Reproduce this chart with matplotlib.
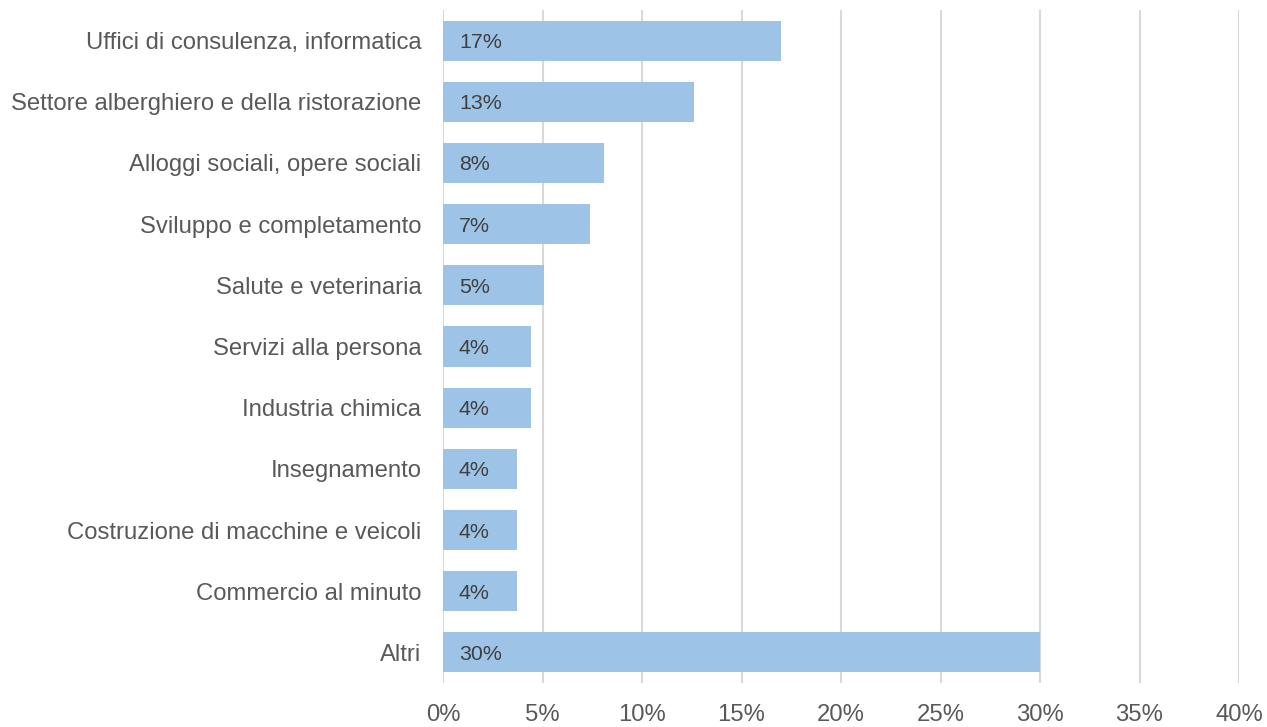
import matplotlib.pyplot as plt
from matplotlib.ticker import FuncFormatter, MultipleLocator

plt.rcParams["font.family"] = ["Liberation Sans", "DejaVu Sans"]

# data (top to bottom as shown)
categories = [
    "Uffici di consulenza, informatica",
    "Settore alberghiero e della ristorazione",
    "Alloggi sociali, opere sociali",
    "Sviluppo e completamento",
    "Salute e veterinaria",
    "Servizi alla persona",
    "Industria chimica",
    "Insegnamento",
    "Costruzione di macchine e veicoli",
    "Commercio al minuto",
    "Altri",
]
shares = [17.0, 12.6, 8.1, 7.4, 5.1, 4.4, 4.4, 3.7, 3.7, 3.7, 30.0]
value_labels = ["17%", "13%", "8%", "7%", "5%", "4%", "4%", "4%", "4%", "4%", "30%"]

BAR_COL = "#9DC3E6"
GRID_COL = "#D9D9D9"
TXT_COL = "#595959"
VAL_COL = "#404040"

fig = plt.figure(figsize=(12.67, 7.27), dpi=100)
ax = fig.add_axes([443 / 1267, 1 - 683 / 727, (1239 - 443) / 1267, (683 - 10) / 727])

ypos = list(range(len(categories)))
ax.barh(ypos, shares, height=0.655, color=BAR_COL, zorder=3)

for y, lab in zip(ypos, value_labels):
    ax.annotate(lab, xy=(0, y), xytext=(11.5, 0), textcoords="offset points",
                ha="left", va="center_baseline", fontsize=15.4, color=VAL_COL, zorder=4)

ax.set_ylim(len(categories) - 0.5, -0.5)
ax.set_xlim(0, 40)
ax.set_yticks(ypos)
ax.set_yticklabels(categories)
ax.xaxis.set_major_locator(MultipleLocator(5))
ax.xaxis.set_major_formatter(FuncFormatter(lambda v, _: f"{v:.0f}%"))

ax.grid(axis="x", color=GRID_COL, lw=1.5, zorder=0)
ax.grid(axis="y", visible=False)
for s in ax.spines.values():
    s.set_visible(False)

ax.tick_params(axis="both", length=0, labelsize=17.2, colors=TXT_COL)
ax.tick_params(axis="y", pad=15.5)
ax.tick_params(axis="x", pad=15)

fig.savefig("out.png", dpi=100)
